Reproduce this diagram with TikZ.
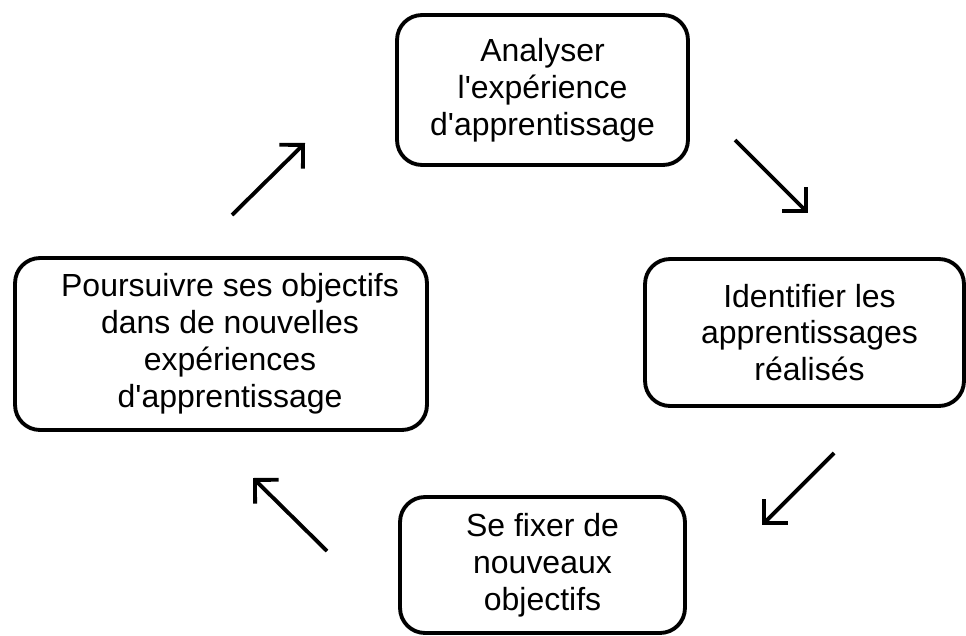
\documentclass[tikz,border=0pt]{standalone}
\usepackage{fontspec}
\setmainfont{Liberation Sans}
\usetikzlibrary{arrows.meta}
\definecolor{inkc}{RGB}{0,0,0}

\begin{document}
\begin{tikzpicture}[x=0.02cm, y=-0.02cm, >={Straight Barb[length=9.5pt, width=19pt]},
  stage/.style={draw=inkc, line width=2.2pt, rounded corners=0.5cm, align=center,
    inner sep=0pt, font=\fontsize{18.2}{21}\selectfont},
  cyc/.style={->, inkc, line width=2.2pt}]

  % page frame (pixel grid of the reference, y downwards)
  \useasboundingbox (0,0) rectangle (966,635);

  % the four stages of the cycle (straight apostrophes as in the source)
  \node[stage, minimum width=5.82cm, minimum height=3.0cm]  (analyse) at (542.5,90)
    {Analyser\\l\textquotesingle expérience\\d\textquotesingle apprentissage};
  \node[stage, minimum width=6.38cm, minimum height=2.94cm] (ident)   at (804.5,332.5)
    {\hspace*{0.2cm}Identifier les\\\hspace*{0.2cm}apprentissages\\\hspace*{0.2cm}réalisés};
  \node[stage, minimum width=5.7cm,  minimum height=2.72cm] (fixer)   at (542.5,565)
    {Se fixer de\\nouveaux\\objectifs};
  \node[stage, minimum width=8.24cm, minimum height=3.44cm] (suivre)  at (221,344)
    {\hspace*{0.36cm}Poursuivre ses objectifs\\\hspace*{0.36cm}dans de nouvelles\\
     \hspace*{0.36cm}expériences\\\hspace*{0.36cm}d\textquotesingle apprentissage};

  % free-standing arrows between the stages (clockwise)
  \coordinate (s1) at (232,215); \coordinate (e1) at (305,143);
  \coordinate (s2) at (735,140); \coordinate (e2) at (808,213);
  \coordinate (s3) at (834,453); \coordinate (e3) at (762,525);
  \coordinate (s4) at (327,551); \coordinate (e4) at (253,478);
  \draw[cyc] (s1) -- (e1);
  \draw[cyc] (s2) -- (e2);
  \draw[cyc] (s3) -- (e3);
  \draw[cyc] (s4) -- (e4);

\end{tikzpicture}
\end{document}
